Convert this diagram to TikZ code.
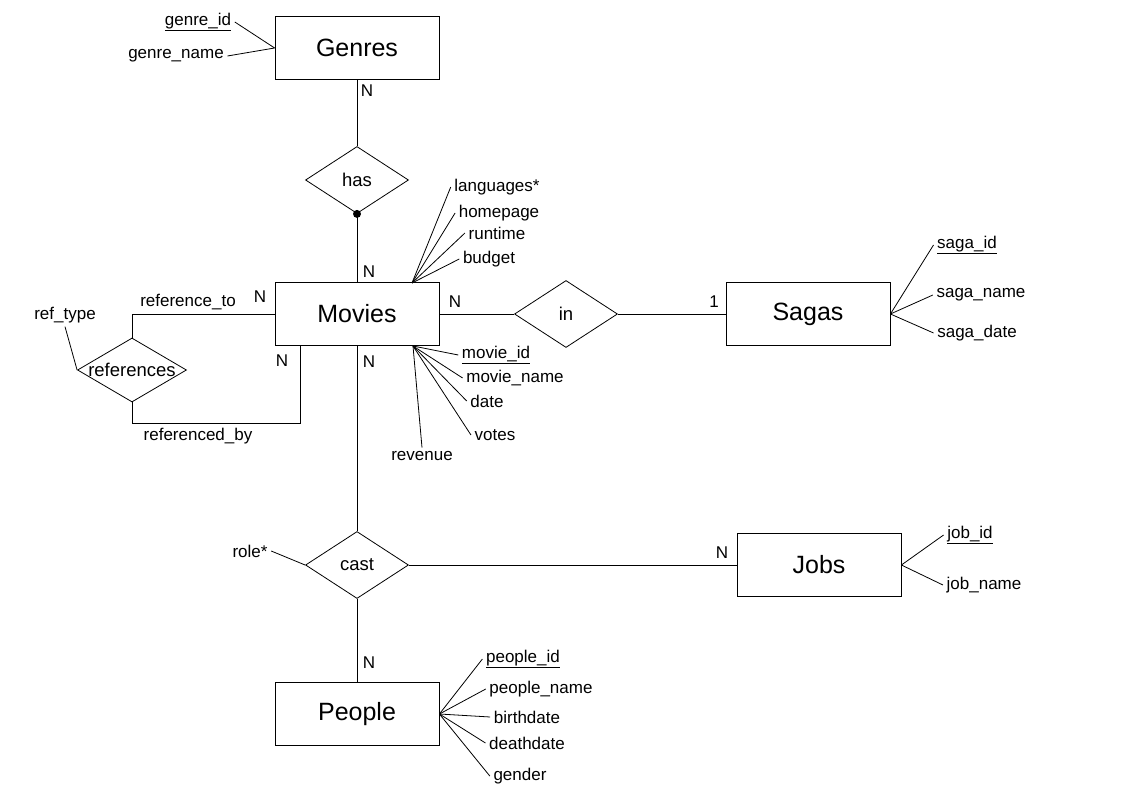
\documentclass[tikz,border=0pt]{standalone}
\usepackage{fontspec}
\setmainfont{Liberation Sans}
\usetikzlibrary{positioning}
\usetikzlibrary{shapes.geometric}
\tikzset{
  every node/.append style={font=\fontsize{17}{20}\selectfont},
  every path/.append style={line width=0.8pt},
  entity/.style={draw=black, fill=white, minimum width=164pt, minimum height=63pt, inner sep=0pt, font=\fontsize{25}{30}\selectfont},
  relation/.style={draw=black, diamond, minimum width=103pt, minimum height=67pt, inner sep=0pt, font=\fontsize{18.5}{22}\selectfont},
  card/.style={inner sep=1pt}
}
\newcommand\attribute[5][west]{
  % #1 (optional) - anchor of the label that the line goes to
  % #2 - Tikz name
  % #3 - Location
  % #4 - Text
  % #5 - point on the entity
  % for example: \attribute{sid}{967,245}{\underline{saga\_id}}{sagas.east}
  \node at (#3) (#2) {#4};
  \draw (#5) -- (#2.#1);
}

\begin{document}
\begin{tikzpicture}[x=1pt, y=-1pt]
  \useasboundingbox (0,0) rectangle (1123,794);

  \node[entity] at (357,48) (genres) {Genres};
  \node[entity] at (357,314) (movies) {Movies};
  \node[entity] at (808,314) (sagas) {Sagas};
  \node[entity] at (819,565) (jobs) {Jobs};
  \node[entity] at (357,714) (people) {People};

  \node[relation] at (357,180) (has) {has};
  \node[relation] at (566,314) (in) {in};
  \node[relation, minimum width=109pt, minimum height=64pt,
        label={[font=\fontsize{18.5}{22}\selectfont]center:references}] at (132,370) (refs) {};
  \node[relation] at (357,565) (cast) {cast};

  \coordinate (mvtop) at (412,283);
  \coordinate (mvbot) at (413,346);
  \coordinate (mvref) at (300,346);

  % relations
  \draw (genres) -- (has);
  \draw (has.south) -- (movies);
  \fill (has.south) circle (4pt);
  \draw (movies) -- (in);
  \draw (in) -- (sagas);
  \draw (refs.north) |- (movies.west);
  \draw (refs.south) -- ++(0,21) -| (mvref);
  \draw (movies) -- (cast);
  \draw (cast) -- (jobs);
  \draw (cast) -- (people);

  \node at (188,302) (refto) {reference\_to};
  \node at (198,436) (refby) {referenced\_by};
  \node at (65,315) (reftype) {ref\_type};
  \draw (reftype.south) -- (refs.west);
  \node at (250,551) (role) {role*};
  \draw (role.east) -- (cast.west);

  % cardinalities
  \node[card] at (367,91) {N};
  \node[card] at (369,272) {N};
  \node[card] at (455,302) {N};
  \node[card] at (714,302) {1};
  \node[card] at (260,297) {N};
  \node[card] at (282,361) {N};
  \node[card] at (369,362) {N};
  \node[card] at (722,553) {N};
  \node[card] at (369,663) {N};

  % attributes
  \attribute[east]{gid}{198,22}{\underline{genre\_id}}{genres.west}
  \attribute[east]{gname}{176,56}{genre\_name}{genres.west}

  \attribute{lang}{497,187}{languages*}{mvtop}
  \attribute{home}{499,213}{homepage}{mvtop}
  \attribute{run}{497,233}{runtime}{mvtop}
  \attribute{budget}{489,259}{budget}{mvtop}

  \attribute{mid}{496,355}{\underline{movie\_id}}{mvbot}
  \attribute{mname}{515,378}{movie\_name}{mvbot}
  \attribute{date}{487,401}{date}{mvbot}
  \attribute{votes}{495,435}{votes}{mvbot}
  \attribute[north]{revenue}{422,456}{revenue}{mvbot}

  \attribute{sid}{967,245}{\underline{saga\_id}}{sagas.east}
  \attribute{sname}{981,295}{saga\_name}{sagas.east}
  \attribute{sdate}{977,333}{saga\_date}{sagas.east}

  \attribute{jid}{970,535}{\underline{job\_id}}{jobs.east}
  \attribute{jname}{984,585}{job\_name}{jobs.east}

  \attribute{pid}{523,659}{\underline{people\_id}}{people.east}
  \attribute{pname}{541,689}{people\_name}{people.east}
  \attribute{birth}{527,717}{birthdate}{people.east}
  \attribute{death}{527,743}{deathdate}{people.east}
  \attribute{gender}{520,776}{gender}{people.east}
\end{tikzpicture}
\end{document}
